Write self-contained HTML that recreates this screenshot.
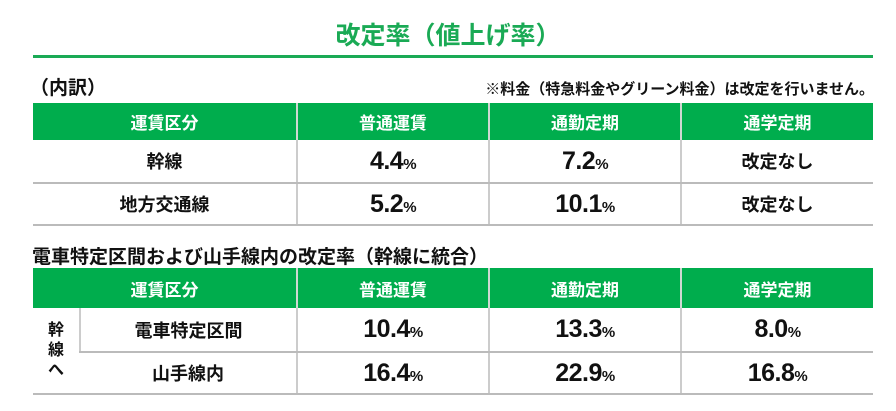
<!DOCTYPE html>
<html><head><meta charset="utf-8"><style>
body{margin:0;width:896px;height:411px;background:#fff;font-family:"Liberation Sans","Noto Sans CJK JP",sans-serif;position:relative;overflow:hidden;color:#111}
.abs{position:absolute}
table{position:absolute;left:33px;border-collapse:collapse;table-layout:fixed;width:840px}
td,th{text-align:center;font-weight:bold;padding:0}
th{background:#00ad4d;color:#fff;font-size:17px;border-left:2px solid #cfd8d2}
th:first-child{border-left:none}
td{font-size:18px;border-bottom:2px solid #bbb;border-left:2px solid #ccc}
td:first-child{border-left:none}
.num{font-size:25px;letter-spacing:-0.5px}
.num small{font-size:15px;font-weight:bold}
</style></head><body>
<div class="abs" style="left:0;width:896px;top:16px;text-align:center;color:#1aaa55;font-size:25px;font-weight:bold">改定率（値上げ率）</div>
<div class="abs" style="left:33px;width:840px;top:55px;height:3px;background:#1aaa55"></div>
<div class="abs" style="left:30px;top:73px;font-size:19px;font-weight:bold">（内訳）</div>
<div class="abs" style="right:22px;top:78px;font-size:15px;font-weight:bold">※料金（特急料金やグリーン料金）は改定を行いません。</div>
<table style="top:103px">
<colgroup><col style="width:264px"><col style="width:192px"><col style="width:192px"><col style="width:192px"></colgroup>
<tr style="height:37px"><th>運賃区分</th><th>普通運賃</th><th>通勤定期</th><th>通学定期</th></tr>
<tr style="height:43px"><td>幹線</td><td class="num">4.4<small>%</small></td><td class="num">7.2<small>%</small></td><td>改定なし</td></tr>
<tr style="height:42px"><td>地方交通線</td><td class="num">5.2<small>%</small></td><td class="num">10.1<small>%</small></td><td>改定なし</td></tr>
</table>
<div class="abs" style="left:32px;top:242px;font-size:19px;font-weight:bold">電車特定区間および山手線内の改定率（幹線に統合）</div>
<table style="top:268px">
<colgroup><col style="width:47px"><col style="width:217px"><col style="width:192px"><col style="width:192px"><col style="width:192px"></colgroup>
<tr style="height:40px"><th colspan="2">運賃区分</th><th>普通運賃</th><th>通勤定期</th><th>通学定期</th></tr>
<tr style="height:44px"><td rowspan="2" style="font-size:16px;line-height:20px">幹<br>線<br>へ</td><td>電車特定区間</td><td class="num">10.4<small>%</small></td><td class="num">13.3<small>%</small></td><td class="num">8.0<small>%</small></td></tr>
<tr style="height:42px"><td>山手線内</td><td class="num">16.4<small>%</small></td><td class="num">22.9<small>%</small></td><td class="num">16.8<small>%</small></td></tr>
</table>
</body></html>
